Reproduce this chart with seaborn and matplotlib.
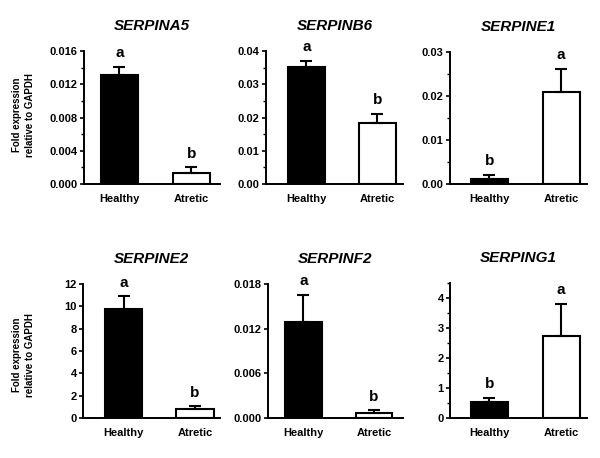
import numpy as np
import pandas as pd
import matplotlib
matplotlib.use("Agg")
import matplotlib.pyplot as plt
from matplotlib.ticker import FormatStrFormatter, MultipleLocator
import seaborn as sns

# ---------------- data ----------------
genes = ["SERPINA5", "SERPINB6", "SERPINE1", "SERPINE2", "SERPINF2", "SERPING1"]
groups = ["Healthy", "Atretic"]
healthy_mean = [0.0131, 0.0353, 0.0012, 9.76, 0.01295, 0.53]
healthy_err = [0.0010, 0.0017, 0.0008, 1.14, 0.0036, 0.13]
atretic_mean = [0.00136, 0.0184, 0.0209, 0.85, 0.00073, 2.72]
atretic_err = [0.00064, 0.0027, 0.0053, 0.20, 0.00031, 1.09]
healthy_letter = ["a", "a", "b", "a", "a", "b"]
atretic_letter = ["b", "b", "a", "b", "b", "a"]
y_max = [0.016, 0.04, 0.03, 12, 0.018, 4.5]
y_step = [0.004, 0.01, 0.01, 2, 0.006, 1]
y_minor = [0.002, 0.005, 0.005, None, None, 0.5]
y_fmt = ["%.3f", "%.2f", "%.2f", "%d", "%.3f", "%d"]
y_label = "Fold expression\nrelative to GAPDH"

# ---------------- layout (pixels: left, right, top, bottom) ----------------
boxes = [(84, 220, 51, 184), (266, 403, 51, 184), (450, 587, 52, 184),
         (83, 220, 284, 418), (268, 403, 284, 418), (450, 587, 283, 418)]
xlims = [(-0.49, 1.40), (-0.57, 1.36), (-0.55, 1.36),
         (-0.57, 1.35), (-0.50, 1.41), (-0.55, 1.36)]

sns.set_style("ticks")
plt.rcParams["font.family"] = ["Liberation Sans", "DejaVu Sans"]
plt.rcParams["font.weight"] = "bold"
plt.rcParams["text.color"] = "black"
plt.rcParams["axes.labelcolor"] = "black"
plt.rcParams["xtick.color"] = "black"
plt.rcParams["ytick.color"] = "black"
plt.rcParams["axes.titlecolor"] = "black"

W, H = 600, 458
fig = plt.figure(figsize=(W / 100, H / 100), dpi=100)

for i, g in enumerate(genes):
    l, r, t, b = boxes[i]
    ax = fig.add_axes([l / W, 1 - b / H, (r - l) / W, (b - t) / H])
    df = pd.DataFrame({"group": groups, "value": [healthy_mean[i], atretic_mean[i]]})
    sns.barplot(data=df, x="group", y="value", hue="group", order=groups,
                hue_order=groups, palette=["black", "white"], edgecolor="black",
                linewidth=1.5, width=0.52, legend=False, errorbar=None, ax=ax)
    means = [healthy_mean[i], atretic_mean[i]]
    errs = [healthy_err[i], atretic_err[i]]
    ax.errorbar([0, 1], means, yerr=[[0, 0], errs], fmt="none", ecolor="black",
                elinewidth=1.5, capsize=4.5, capthick=1.5, zorder=1)
    for j, letter in enumerate([healthy_letter[i], atretic_letter[i]]):
        ax.annotate(letter, xy=(j, means[j] + errs[j]), xytext=(0, 7),
                    textcoords="offset points", ha="center", va="baseline",
                    fontsize=11, fontweight="bold", color="black")
    ax.set_xlim(*xlims[i])
    ax.set_ylim(0, y_max[i])
    ax.yaxis.set_major_locator(MultipleLocator(y_step[i]))
    if y_minor[i]:
        ax.yaxis.set_minor_locator(MultipleLocator(y_minor[i]))
    ax.yaxis.set_major_formatter(FormatStrFormatter(y_fmt[i]))
    ax.set_xlabel("")
    ax.set_ylabel("")
    ax.set_title(g, fontsize=11, fontweight="bold", fontstyle="italic", pad=15,
                 color="black")
    for s in ["top", "right"]:
        ax.spines[s].set_visible(False)
    for s in ["left", "bottom"]:
        ax.spines[s].set_linewidth(1.4)
        ax.spines[s].set_color("black")
    ax.tick_params(axis="y", which="major", length=3, width=1.2, pad=1.5,
                   labelsize=8, colors="black")
    ax.tick_params(axis="y", which="minor", length=2, width=1.0, colors="black")
    ax.tick_params(axis="x", length=0, pad=7, labelsize=8, colors="black")
    for lab in ax.get_xticklabels() + ax.get_yticklabels():
        lab.set_fontweight("bold")

for yc in (115, 355):
    fig.text(23.5 / W, 1 - yc / H, y_label, rotation=90, ha="center", va="center",
             fontsize=7, fontweight="bold", linespacing=1.3, color="black")

fig.savefig("out.png", dpi=100, facecolor="white")
